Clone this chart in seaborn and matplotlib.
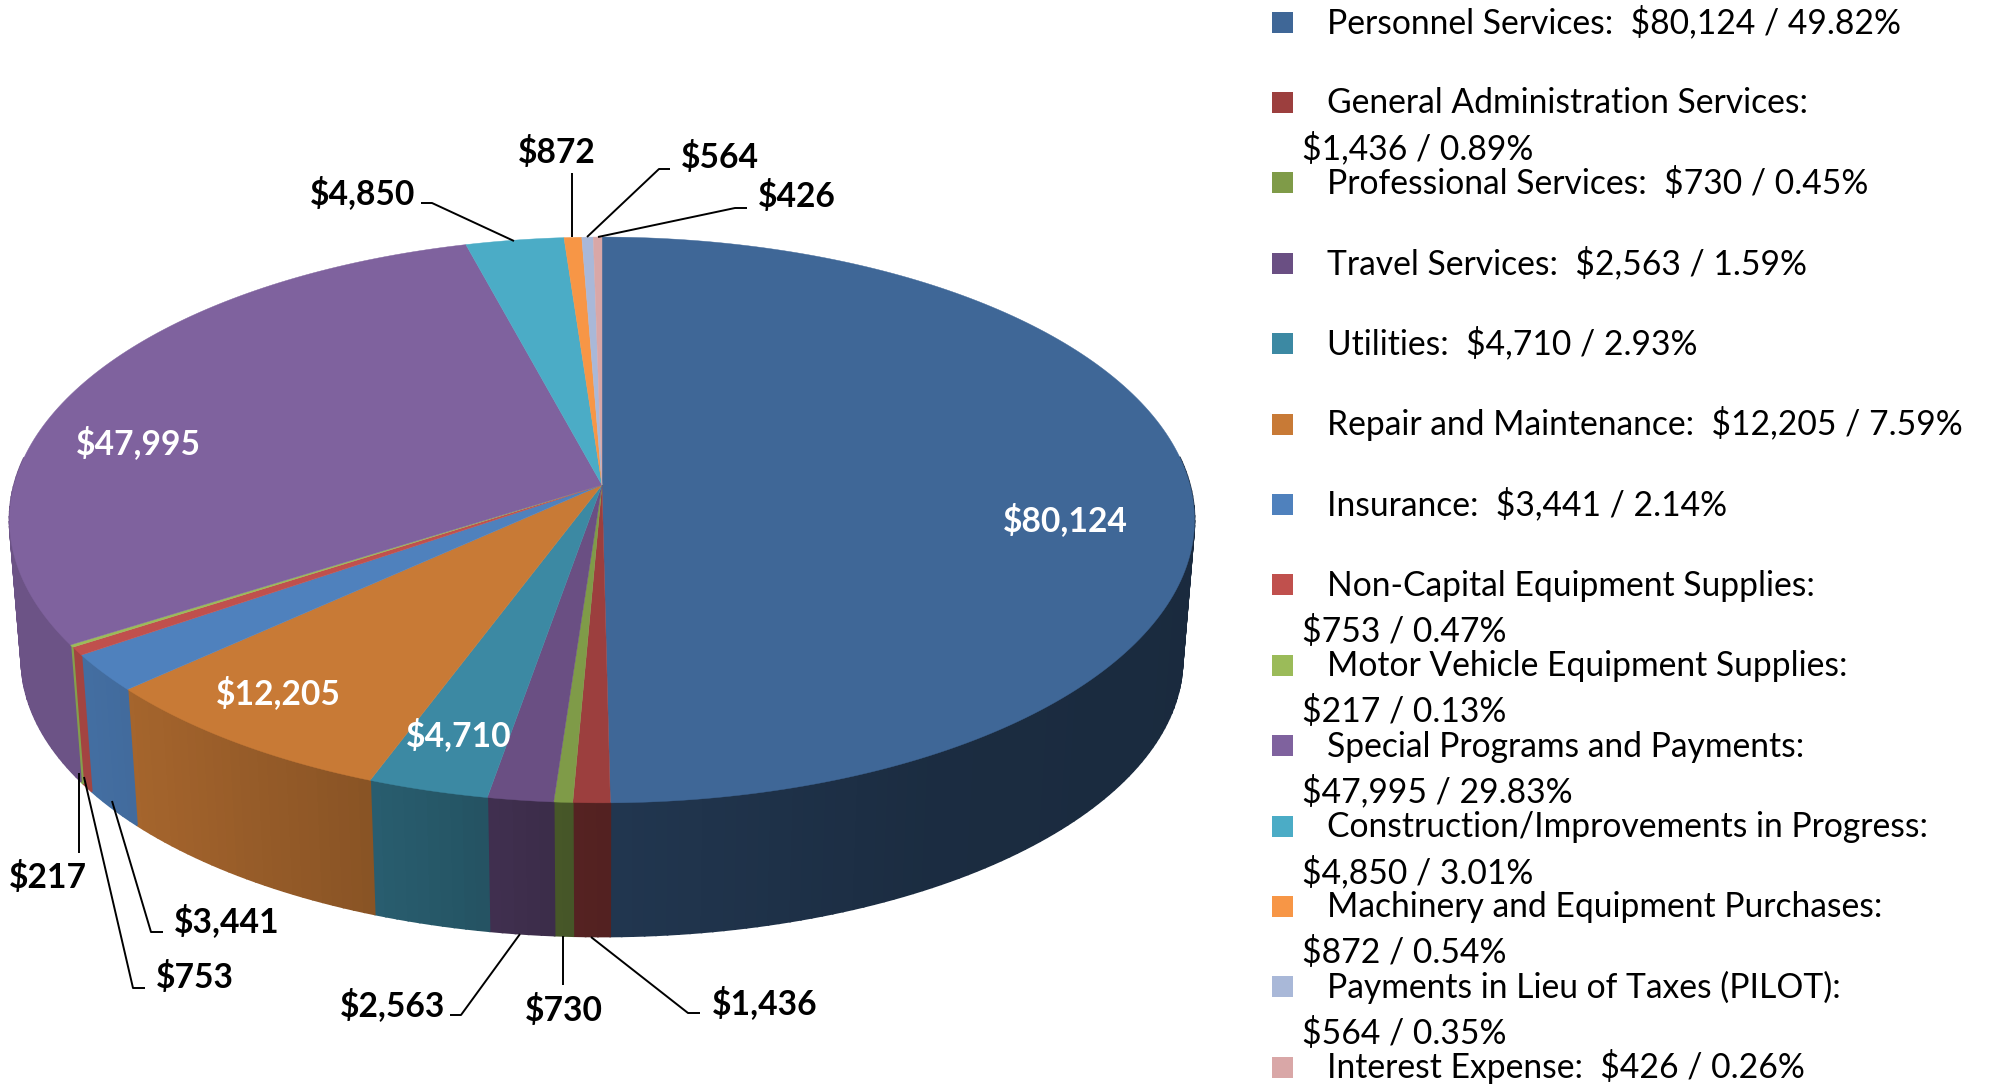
import numpy as np
import seaborn as sns
import matplotlib.pyplot as plt
from matplotlib.patches import Rectangle

categories = ['Personnel Services', 'General Administration Services', 'Professional Services',
              'Travel Services', 'Utilities', 'Repair and Maintenance', 'Insurance',
              'Non-Capital Equipment Supplies', 'Motor Vehicle Equipment Supplies',
              'Special Programs and Payments', 'Construction/Improvements in Progress',
              'Machinery and Equipment Purchases', 'Payments in Lieu of Taxes (PILOT)',
              'Interest Expense']
values = [80124, 1436, 730, 2563, 4710, 12205, 3441, 753, 217, 47995, 4850, 872, 564, 426]
percents = [49.82, 0.89, 0.45, 1.59, 2.93, 7.59, 2.14, 0.47, 0.13, 29.83, 3.01, 0.54, 0.35, 0.26]
wrapped = [False, True, False, False, False, False, False, True, True, True, True, True, True, False]
colors = ['#3F6797', '#9C3F3E', '#7F9B48', '#6A4F83', '#3C89A3', '#C87A36', '#4F81BD',
          '#C0504D', '#9BBB59', '#7F629E', '#4BACC6', '#F79646', '#A9B8D8', '#D9A7A7']

# label centre in pixels, white labels sit on the pie
inner_labels = {0: (1065, 520), 9: (138, 443), 5: (278, 693), 4: (459, 735)}
outer_labels = {8: (48, 877), 6: (227, 921), 7: (195, 977), 3: (393, 1005), 2: (564, 1010),
                1: (765, 1003), 10: (363, 193), 11: (557, 152), 12: (720, 157), 13: (797, 196)}
leaders = {8: [(79, 773), (79, 853)],
           7: [(84, 777), (133, 988), (145, 988)],
           6: [(112, 801), (151, 932), (163, 932)],
           3: [(520, 934), (461, 1015), (450, 1015)],
           2: [(563, 936), (563, 985)],
           1: [(591, 937), (688, 1013), (700, 1013)],
           10: [(514, 241), (432, 203), (421, 203)],
           11: [(572, 237), (572, 173)],
           12: [(587, 237), (659, 169), (670, 169)],
           13: [(598, 237), (735, 208), (747, 208)]}

# perspective of the pie disc, in pixels
CX, CY, KX, KY, P = 602, 485, 588, 278.6, 0.1236
WALL_Y, WALL_S = 625, 0.98
BASE = 11  # centre of the digits to their baseline


def project(theta, scale=1.0, cy=CY):
    w = 1 + P * np.sin(theta)
    return CX + scale * KX * np.cos(theta) / w, cy - scale * KY * np.sin(theta) / w


def darken(color, theta):
    # side wall gets darker going from left to right
    f = np.interp(np.cos(theta), [-1, -0.8, -0.39, 0, 0.5, 1], [0.85, 0.85, 0.70, 0.53, 0.43, 0.41])
    return tuple(c * f for c in color)


sns.set_theme(style='white')
plt.rcParams['font.family'] = ['Lato', 'DejaVu Sans']

fig = plt.figure(figsize=(19.99, 10.86), dpi=100)
ax = fig.add_axes([0, 0, 1, 1])
palette = sns.color_palette(colors)
wedges, _ = ax.pie(values, colors=palette, startangle=90, counterclock=False)
ax.set_aspect('auto')
ax.set_xlim(0, 1999)
ax.set_ylim(1086, 0)
ax.axis('off')

for wedge, color in zip(wedges, palette):
    t1, t2 = wedge.theta1, wedge.theta2
    wedge.remove()
    n = max(int(t2 - t1), 2)
    angles = np.radians(np.linspace(t1, t2, n + 1))

    # side wall, one thin strip per degree
    for a, b in zip(angles[:-1], angles[1:]):
        if np.sin((a + b) / 2) > 0.1:
            continue
        xa, ya = project(a)
        xb, yb = project(b)
        xc, yc = project(b, WALL_S, WALL_Y)
        xd, yd = project(a, WALL_S, WALL_Y)
        shade = darken(color, (a + b) / 2)
        ax.fill([xa, xb, xc, xd], [ya, yb, yc, yd], color=shade, lw=1.2, zorder=2)

    # top of the slice
    xs, ys = project(angles)
    ax.fill(np.r_[CX, xs], np.r_[CY, ys], color=color, lw=0.3, zorder=3)

for i, (x, y) in inner_labels.items():
    ax.text(x, y + BASE, f'${values[i]:,}', color='white', fontsize=24.2, fontweight='bold',
            ha='center', va='baseline', zorder=5)
for i, (x, y) in outer_labels.items():
    ax.text(x, y + BASE, f'${values[i]:,}', color='black', fontsize=24.2, fontweight='bold',
            ha='center', va='baseline', zorder=5)
for pts in leaders.values():
    ax.plot(*zip(*pts), color='black', lw=1.4, zorder=4, solid_capstyle='butt')

# legend
for i, cat in enumerate(categories):
    y = 22 + i * 80.4
    ax.add_patch(Rectangle((1272, y - 10.5), 21, 21, color=palette[i], lw=0))
    amount = f'${values[i]:,} / {percents[i]:.2f}%'
    if wrapped[i]:
        ax.text(1327, y + BASE, f'{cat}:', fontsize=24.2, ha='left', va='baseline', color='black')
        ax.text(1302, y + 46 + BASE, amount, fontsize=24.2, ha='left', va='baseline', color='black')
    else:
        ax.text(1327, y + BASE, f'{cat}:  {amount}', fontsize=24.2, ha='left', va='baseline', color='black')

fig.savefig('out.png', dpi=100)
